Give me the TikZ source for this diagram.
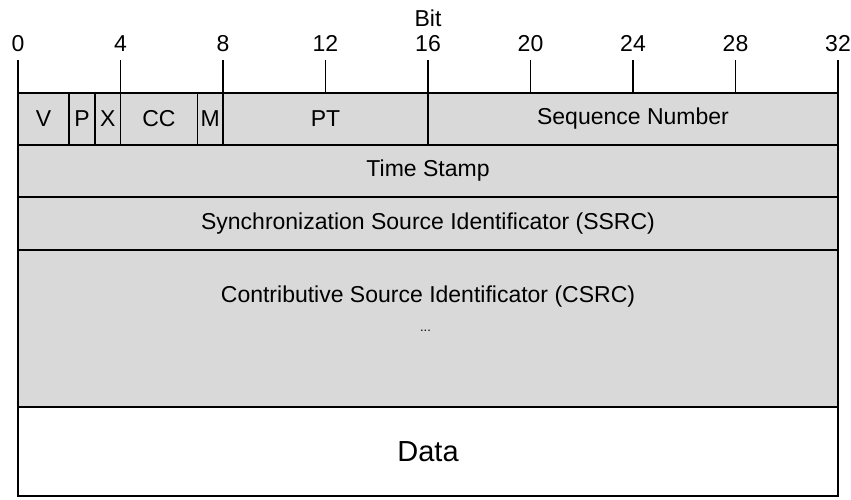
\documentclass[tikz,border=0pt]{standalone}
\usepackage{fontspec}
\setmainfont{Liberation Sans}
\begin{document}
\begin{tikzpicture}[x=25.625pt,y=-1pt,
    fieldbox/.style={draw, line width=1.5pt, fill=black!15},
    fieldtext/.style={inner sep=0pt, font=\fontsize{23}{26}\selectfont},
    bittick/.style={line width=1.5pt},
    bitlabel/.style={inner sep=0pt, anchor=base, font=\fontsize{23}{26}\selectfont}]
    \useasboundingbox (-0.7024,0) rectangle (32.5073,499);
    \def\rowA{93}
    \def\rowB{145}
    \def\rowC{197}
    \def\rowD{250}
    \def\rowE{407}
    \def\rowF{496}

    % Scale of bits
    \node[bitlabel] (bit) at (16,26) {Bit};
    \foreach \b in {0,4,...,32} {
        \node[bitlabel] (lab\b) at (\b,51) {\b};
        \draw[bittick] (\b,60) -- (\b,\rowA);
    }

    % First word: V P X CC M PT Sequence Number
    \draw[fieldbox] (0,\rowA) rectangle (2,\rowB) node[midway, fieldtext] (v) {V};
    \draw[fieldbox] (2,\rowA) rectangle (3,\rowB) node[midway, fieldtext] (p) {P};
    \draw[fieldbox] (3,\rowA) rectangle (4,\rowB) node[midway, fieldtext] (x) {X};
    \draw[fieldbox] (4,\rowA) rectangle (7,\rowB) node[midway, fieldtext] (cc) {CC};
    \draw[fieldbox] (7,\rowA) rectangle (8,\rowB) node[midway, fieldtext] (m) {M};
    \draw[fieldbox] (8,\rowA) rectangle (16,\rowB) node[midway, fieldtext] (pt) {PT};
    \draw[fieldbox] (16,\rowA) rectangle (32,\rowB) node[midway, fieldtext] (seq) {Sequence Number};

    % Whole words
    \draw[fieldbox] (0,\rowB) rectangle (32,\rowC) node[midway, fieldtext] (ts) {Time Stamp};
    \draw[fieldbox] (0,\rowC) rectangle (32,\rowD) node[midway, fieldtext] (ssrc) {Synchronization Source Identificator (SSRC)};
    \draw[fieldbox] (0,\rowD) rectangle (32,\rowE);
    \node[fieldtext] (csrc) at (16,297) {Contributive Source Identificator (CSRC)};
    \node[inner sep=0pt, font=\fontsize{13}{15}\selectfont] (dots) at (15.9,331) {...};

    % Payload
    \draw[fieldbox, fill=white] (0,\rowE) rectangle (32,\rowF) node[midway, fieldtext, font=\fontsize{29}{32}\selectfont] (data) {Data};
\end{tikzpicture}
\end{document}
